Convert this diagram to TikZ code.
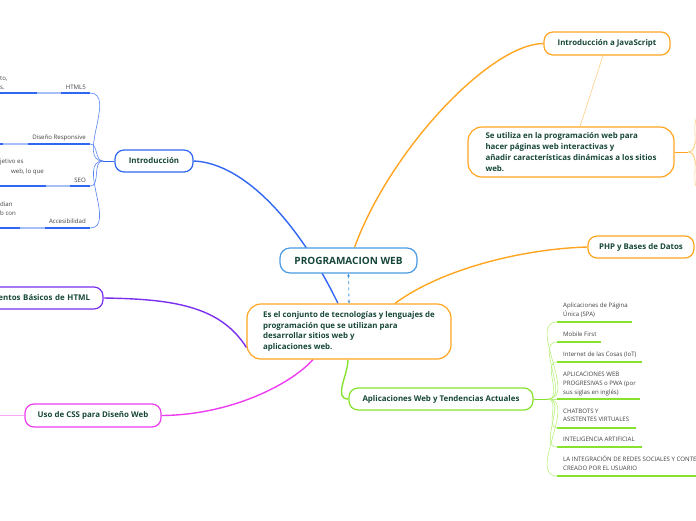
\documentclass[tikz,border=0pt]{standalone}
\usepackage{fontspec}
\setmainfont{Open Sans}
\usepackage{xcolor}
\usepackage{tikz}
\usetikzlibrary{arrows.meta,backgrounds}
\definecolor{mapink}{HTML}{17473A}
\definecolor{maproot}{HTML}{4A9BE2}
\definecolor{mapblue}{HTML}{2F66F2}
\definecolor{mapblueL}{HTML}{A6BFF8}
\definecolor{maporange}{HTML}{FFA51F}
\definecolor{maporangeL}{HTML}{FFCE85}
\definecolor{mappurple}{HTML}{7A2FF0}
\definecolor{mapmagenta}{HTML}{EE3CF0}
\definecolor{mapmagentaL}{HTML}{F5A6F5}
\definecolor{mapgreen}{HTML}{86E22E}
\definecolor{mapgreenL}{HTML}{B9F07F}
\tikzset{
  topic/.style={draw, fill=white, line width=1.2pt, rounded corners=9pt, inner sep=0pt,
                text=mapink, font=\bfseries\fontsize{7.9}{10.7}\selectfont},
  root/.style={topic, draw=maproot, rounded corners=10pt, font=\bfseries\fontsize{10}{11}\selectfont},
  note/.style={topic, rounded corners=14pt, align=left},
  sublabel/.style={inner sep=0pt, text=black!75, font=\fontsize{6.1}{8.7}\selectfont, text depth=1.8pt},
  branch/.style={line width=1.4pt},
  twig/.style={line width=0.6pt},
  uline/.style={line width=1.8pt},
}

\begin{document}
\begin{tikzpicture}[x=1pt,y=-1pt]
  \useasboundingbox (0,0) rectangle (696,520);
  \clip (0,0) rectangle (696,520);
  % centre topic and its description
  \node[root, minimum width=137pt, minimum height=25pt] (root) at (348.5,260.5) {PROGRAMACION WEB};
  \node[note, draw=maporange, minimum width=204pt, minimum height=55pt] (desc) at (349,331.5)
    {Es el conjunto de tecnologías y lenguajes de\\programación que se utilizan para\\desarrollar sitios web y\\aplicaciones web.};
  % main topics
  \node[topic, draw=mapblue, minimum width=78pt, minimum height=22pt] (intro) at (154,161) {Introducción};
  \node[topic, draw=maporange, minimum width=126pt, minimum height=23pt] (js) at (607,43.5) {Introducción a JavaScript};
  \node[note, draw=maporange, minimum width=206pt, minimum height=50pt] (jsdesc) at (571,152)
    {Se utiliza en la programación web para\\hacer páginas web interactivas y\\añadir características dinámicas a los sitios\\web.};
  \node[topic, draw=maporange, minimum width=106pt, minimum height=22pt] (php) at (641,247) {PHP y Bases de Datos};
  \node[topic, draw=mappurple, minimum width=123pt, minimum height=22pt, text width=97pt, align=right] (html) at (41.5,298) {entos Básicos de HTML};
  \node[topic, draw=mapmagenta, minimum width=136pt, minimum height=23pt] (css) at (93,415.5) {Uso de CSS para Diseño Web};
  \node[topic, draw=mapgreen, minimum width=184pt, minimum height=22pt] (apps) at (441,399) {Aplicaciones Web y Tendencias Actuales};

  % Introducción: labels, cut-off texts and underlines
  \node[sublabel, anchor=base east] (html5) at (86,89) {HTML5};
  \node[sublabel, anchor=base east] (resp) at (86,139) {Diseño Responsive};
  \node[sublabel, anchor=base east] (seo) at (86,182) {SEO};
  \node[sublabel, anchor=base east] (acc) at (86,223) {Accesibilidad};
  \node[sublabel, anchor=base west] (frA) at (0,80) {to,};
  \node[sublabel, anchor=base west] (frB) at (0,89) {s.};
  \node[sublabel, anchor=base west] (frC) at (0,163) {jetivo es};
  \node[sublabel, anchor=base west] (frD) at (11,173) {web, lo que};
  \node[sublabel, anchor=base west] (frE) at (0,206) {dian};
  \node[sublabel, anchor=base west] (frF) at (0,215) {b con};
  \foreach \y/\a/\b in {93/37/61, 144/3/28, 186/46/70, 228/20/45} {
    \draw[uline, mapblue] (0,\y) -- (\a,\y);
    \draw[uline, mapblueL] (\a,\y) -- (\b,\y);
    \draw[uline, mapblue] (\b,\y) -- (90,\y);
  }
  \coordinate (ihub) at (103,161);
  \coordinate (i1) at (90,93);
  \coordinate (i2) at (90,144);
  \coordinate (i3) at (90,186);
  \coordinate (i4) at (90,228);

  % Aplicaciones Web: labels and underlines
  \node[sublabel, anchor=south west, align=left] (spa) at (563,318.3) {Aplicaciones de Página\\Única (SPA)};
  \node[sublabel, anchor=south west, align=left] (mob) at (563,338.3) {Mobile First};
  \node[sublabel, anchor=south west, align=left] (iot) at (563,358.8) {Internet de las Cosas (IoT)};
  \node[sublabel, anchor=south west, align=left] (pwa) at (563,396.3) {APLICACIONES WEB\\PROGRESIVAS o PWA (por\\sus siglas en inglés)};
  \node[sublabel, anchor=south west, align=left] (bot) at (563,423.8) {CHATBOTS Y\\ASISTENTES VIRTUALES};
  \node[sublabel, anchor=south west, align=left] (ia) at (563,443.3) {INTELIGENCIA ARTIFICIAL};
  \node[sublabel, anchor=south west, align=left] (red) at (563,472.3) {LA INTEGRACIÓN DE REDES SOCIALES Y CONTE\\CREADO POR EL USUARIO};
  \coordinate (ahub) at (548,399);
  \foreach \n/\y/\e in {a1/322/632, a2/342/601, a3/362/642, a4/399/640, a5/428/636, a6/447/642, a7/476/700} {
    \coordinate (\n) at (557,\y);
    \draw[uline, mapgreen] (\n) -- (\e,\y);
  }

  % connectors, behind the topics
  \begin{scope}[on background layer]
    \draw[branch, mapblue] (intro.east) .. controls (245,163) and (300,225) .. ([xshift=-11pt]desc.north);
    \draw[branch, maporange] (js.west) .. controls (490,44) and (390,150) .. ([xshift=6pt]root.north);
    \draw[branch, maporange] (php.west) .. controls (520,249) and (440,270) .. ([xshift=46pt]desc.north);
    \draw[branch, mappurple] (html.east) .. controls (170,299) and (220,305) .. ([yshift=-16pt]desc.west);
    \draw[branch, mapmagenta] (css.east) .. controls (230,415) and (290,385) .. ([xshift=-36pt]desc.south);
    \draw[branch, mapgreen] ([xshift=-1pt]desc.south) to[out=-90,in=180] (apps.west);
    \draw[uline, mapmagentaL] (css.west) -- (0,415.5);
    \draw[twig, maporangeL] ([xshift=-4pt]js.south) -- ([xshift=9pt]jsdesc.north);
    % twigs of Introducción
    \draw[twig, mapblue] (intro.west) -- (ihub);
    \foreach \n in {i1,i2,i3,i4}
      \draw[twig, mapblue!80] (ihub) to[out=180,in=0] (\n);
    % twigs of Aplicaciones Web
    \draw[twig, mapgreen] (apps.east) -- (ahub);
    \foreach \n in {a1,a2,a3,a4,a5,a6,a7}
      \draw[twig, mapgreenL] (ahub) to[out=0,in=180] (\n);
    % twigs of the JavaScript description
    \coordinate (jhub) at (688,152);
    \draw[line width=1pt, maporange] (jsdesc.east) -- (jhub);
    \foreach \t in {115,135,170,190}
      \draw[twig, maporangeL] (jhub) to[out=0,in=180] (702,\t);
  \end{scope}
  \draw[dashed, maproot, line width=0.8pt, {Stealth[length=3pt,width=3pt]}-{Stealth[length=3pt,width=3pt]}] (root.south) -- (desc.north);
\end{tikzpicture}
\end{document}
